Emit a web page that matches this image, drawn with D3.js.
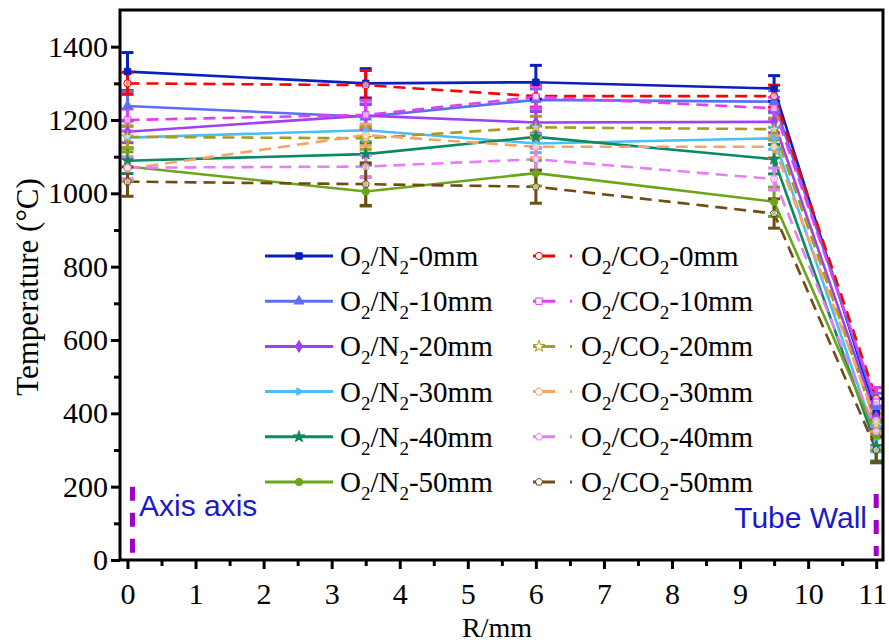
<!DOCTYPE html>
<html>
<head>
<meta charset="utf-8">
<script src="https://cdn.jsdelivr.net/npm/d3@7"></script>
<style>
  body { margin: 0; background: #fff; }
  svg text { font-family: "Liberation Serif", "Times New Roman", serif; }
  svg text.note { font-family: "Liberation Sans", Arial, sans-serif; }
</style>
</head>
<body>
<svg id="chart" width="889" height="643"></svg>
<script>
  // positions along the radius (mm)
  const radius = [0, 3.5, 6, 9.5, 11];

  const n2_0 = [1332, 1300, 1303, 1286, 400];
  const n2_10 = [1238, 1209, 1255, 1250, 420];
  const n2_20 = [1168, 1212, 1193, 1195, 390];
  const n2_30 = [1152, 1172, 1136, 1150, 330];
  const n2_40 = [1089, 1107, 1154, 1093, 310];
  const n2_50 = [1073, 1005, 1055, 977, 340];

  const co2_0 = [1300, 1295, 1265, 1265, 440];
  const co2_10 = [1200, 1214, 1263, 1232, 430];
  const co2_20 = [1154, 1150, 1180, 1175, 370];
  const co2_30 = [1067, 1159, 1127, 1127, 380];
  const co2_40 = [1070, 1073, 1093, 1039, 350];
  const co2_50 = [1032, 1025, 1018, 945, 300];

  const err_n2_0 = [52, 40, 46, 35, 40];
  const err_n2_10 = [40, 35, 30, 30, 35];
  const err_n2_20 = [30, 30, 30, 30, 30];
  const err_n2_30 = [30, 30, 25, 30, 35];
  const err_n2_40 = [35, 30, 30, 40, 40];
  const err_n2_50 = [40, 40, 35, 40, 40];
  const err_co2_0 = [30, 40, 30, 30, 30];
  const err_co2_10 = [30, 40, 30, 30, 40];
  const err_co2_20 = [30, 30, 30, 30, 30];
  const err_co2_30 = [30, 30, 30, 30, 30];
  const err_co2_40 = [30, 30, 30, 30, 40];
  const err_co2_50 = [40, 58, 45, 40, 35];

  const n2Labels = ['0mm', '10mm', '20mm', '30mm', '40mm', '50mm'];
  const yTicks = [0, 200, 400, 600, 800, 1000, 1200, 1400];
  const xTicks = d3.range(0, 12);

  const series = [
    {gas: 'N', vals: n2_0, err: err_n2_0, label: n2Labels[0], color: '#0a1fbf', sym: d3.symbolSquare, fill: true, dash: null},
    {gas: 'N', vals: n2_10, err: err_n2_10, label: n2Labels[1], color: '#5b6ef7', sym: d3.symbolTriangle, fill: true, dash: null},
    {gas: 'N', vals: n2_20, err: err_n2_20, label: n2Labels[2], color: '#a040f5', sym: d3.symbolDiamond, fill: true, dash: null},
    {gas: 'N', vals: n2_30, err: err_n2_30, label: n2Labels[3], color: '#4cbdf7', sym: 'right', fill: true, dash: null},
    {gas: 'N', vals: n2_40, err: err_n2_40, label: n2Labels[4], color: '#0a8a64', sym: d3.symbolStar, fill: true, dash: null},
    {gas: 'N', vals: n2_50, err: err_n2_50, label: n2Labels[5], color: '#6aa51a', sym: d3.symbolCircle, fill: true, dash: null},
    {gas: 'C', vals: co2_0, err: err_co2_0, label: n2Labels[0], color: '#ff0000', sym: d3.symbolCircle, fill: false, dash: '12,7'},
    {gas: 'C', vals: co2_10, err: err_co2_10, label: n2Labels[1], color: '#e040f0', sym: d3.symbolSquare, fill: false, dash: '12,7'},
    {gas: 'C', vals: co2_20, err: err_co2_20, label: n2Labels[2], color: '#a89c1a', sym: d3.symbolStar, fill: false, dash: '12,7'},
    {gas: 'C', vals: co2_30, err: err_co2_30, label: n2Labels[3], color: '#f5a464', sym: 'hex', fill: false, dash: '12,7'},
    {gas: 'C', vals: co2_40, err: err_co2_40, label: n2Labels[4], color: '#e87ef5', sym: 'pent', fill: false, dash: '12,7'},
    {gas: 'C', vals: co2_50, err: err_co2_50, label: n2Labels[5], color: '#6e4c12', sym: 'pent', fill: false, dash: '12,7'}
  ];

  const svg = d3.select('#chart');
  const mLeft = 120, mRight = 883, mTop = 10, mBottom = 560;
  const serif = '"Liberation Serif", "Times New Roman", serif';

  const x = d3.scaleLinear().domain([-0.11, 11.1]).range([mLeft, mRight]);
  const y = d3.scaleLinear().domain([0, 1500]).range([mBottom, mTop]);

  function polySymbol(n, r, rot) {
    const pts = d3.range(n).map(i => {
      const a = rot + i * 2 * Math.PI / n;
      return [r * Math.cos(a), r * Math.sin(a)];
    });
    return 'M' + pts.join('L') + 'Z';
  }
  function symPath(sym, size) {
    if (sym === 'right') return polySymbol(3, size * 0.62, 0);
    if (sym === 'hex') return polySymbol(6, size * 0.55, 0);
    if (sym === 'pent') return polySymbol(5, size * 0.55, -Math.PI / 2);
    return d3.symbol().type(sym).size(size * size * 0.85)();
  }

  const line = d3.line().x((d, i) => x(radius[i])).y(d => y(d));

  // lines
  series.forEach(s => {
    svg.append('path').datum(s.vals)
      .attr('fill', 'none')
      .attr('stroke', s.color)
      .attr('stroke-width', 2.6)
      .attr('stroke-dasharray', s.dash)
      .attr('d', line);
  });

  // error bars
  series.forEach(s => {
    const g = svg.append('g').attr('stroke', s.color).attr('stroke-width', 3);
    s.vals.forEach((v, i) => {
      const cx = x(radius[i]);
      g.append('line').attr('x1', cx).attr('x2', cx).attr('y1', y(v - s.err[i])).attr('y2', y(v + s.err[i]));
      g.append('line').attr('x1', cx - 6).attr('x2', cx + 6).attr('y1', y(v + s.err[i])).attr('y2', y(v + s.err[i]));
      g.append('line').attr('x1', cx - 6).attr('x2', cx + 6).attr('y1', y(v - s.err[i])).attr('y2', y(v - s.err[i]));
    });
  });

  // markers
  series.forEach(s => {
    s.vals.forEach((v, i) => {
      svg.append('path')
        .attr('d', symPath(s.sym, 7))
        .attr('transform', `translate(${x(radius[i])},${y(v)})`)
        .attr('fill', s.fill ? s.color : '#fff')
        .attr('fill-opacity', s.fill ? 1 : 0.6)
        .attr('stroke', s.color)
        .attr('stroke-width', 1);
    });
  });

  // wall / axis markers
  [[0, 5, 200], [11, 0, 180]].forEach(([xv, dx, yv]) => {
    svg.append('line')
      .attr('x1', x(xv) + dx).attr('x2', x(xv) + dx)
      .attr('y1', y(yv)).attr('y2', mBottom - 4)
      .attr('stroke', '#a000c8').attr('stroke-width', 5)
      .attr('stroke-dasharray', '14,12');
  });
  svg.append('text').attr('class', 'note').attr('x', 139).attr('y', 516)
    .attr('font-size', 30).attr('fill', '#1a1acc').text('Axis axis');
  svg.append('text').attr('class', 'note').attr('x', 867).attr('y', 528)
    .attr('font-size', 30).attr('fill', '#1a1acc').attr('text-anchor', 'end').text('Tube Wall');

  // frame
  svg.append('rect').attr('x', mLeft).attr('y', mTop).attr('width', mRight - mLeft).attr('height', mBottom - mTop)
    .attr('fill', 'none').attr('stroke', '#000').attr('stroke-width', 3);

  // axes
  const yAxis = svg.append('g').attr('transform', `translate(${mLeft},0)`)
    .call(d3.axisLeft(y).tickValues(yTicks).tickSize(9).tickPadding(3).tickFormat(d3.format('d')));
  const yMinor = svg.append('g').attr('transform', `translate(${mLeft},0)`)
    .call(d3.axisLeft(y).tickValues(d3.range(100, 1500, 200)).tickSize(6).tickFormat(''));
  const xAxis = svg.append('g').attr('transform', `translate(0,${mBottom})`)
    .call(d3.axisBottom(x).tickValues(xTicks).tickSize(9).tickPadding(14));
  const xMinor = svg.append('g').attr('transform', `translate(0,${mBottom})`)
    .call(d3.axisBottom(x).tickValues(d3.range(0.5, 11, 1)).tickSize(6).tickFormat(''));
  [yAxis, yMinor, xAxis, xMinor].forEach(a => {
    a.select('.domain').remove();
    a.selectAll('line').attr('stroke', '#000').attr('stroke-width', 3);
    a.selectAll('text').attr('font-size', 30).attr('fill', '#000').style('font-family', serif);
  });
  // last label sits at the right edge, pull it in a little
  xAxis.selectAll('text').filter(d => d === 11).attr('dx', -4);

  svg.append('text').attr('x', 497).attr('y', 637)
    .attr('text-anchor', 'middle').attr('font-size', 28).text('R/mm');
  svg.append('text').attr('transform', 'translate(38,287) rotate(-90)')
    .attr('text-anchor', 'middle').attr('font-size', 31).text('Temperature (°C)');

  // legend
  function legendLabel(g, tx, gasSub, label) {
    const t = g.append('text').attr('x', tx).attr('y', 10).attr('font-size', 29);
    t.append('tspan').text('O');
    t.append('tspan').attr('font-size', 19).attr('dy', 8).text('2');
    t.append('tspan').attr('dy', -8).text('/' + gasSub);
    t.append('tspan').attr('font-size', 19).attr('dy', 8).text('2');
    t.append('tspan').attr('dy', -8).text('-' + label);
  }
  series.forEach((s, k) => {
    const col = s.gas === 'N' ? 0 : 1;
    const row = k % 6;
    const g = svg.append('g').attr('transform', `translate(0,${256 + row * 45.2})`);
    if (col === 0) {
      g.append('line').attr('x1', 265).attr('x2', 333).attr('y1', 0).attr('y2', 0)
        .attr('stroke', s.color).attr('stroke-width', 3);
      g.append('path').attr('d', symPath(s.sym, 7)).attr('transform', 'translate(299,0)')
        .attr('fill', s.color).attr('stroke', s.color);
      legendLabel(g, 340, 'N', s.label);
    } else {
      g.append('line').attr('x1', 533).attr('x2', 575).attr('y1', 0).attr('y2', 0)
        .attr('stroke', s.color).attr('stroke-width', 3).attr('stroke-dasharray', '22,15,2,20');
      g.append('path').attr('d', symPath(s.sym, 7)).attr('transform', 'translate(539,0)')
        .attr('fill', '#fff').attr('stroke', s.color).attr('stroke-width', 1);
      legendLabel(g, 581, 'CO', s.label);
    }
  });
</script>
</body>
</html>
